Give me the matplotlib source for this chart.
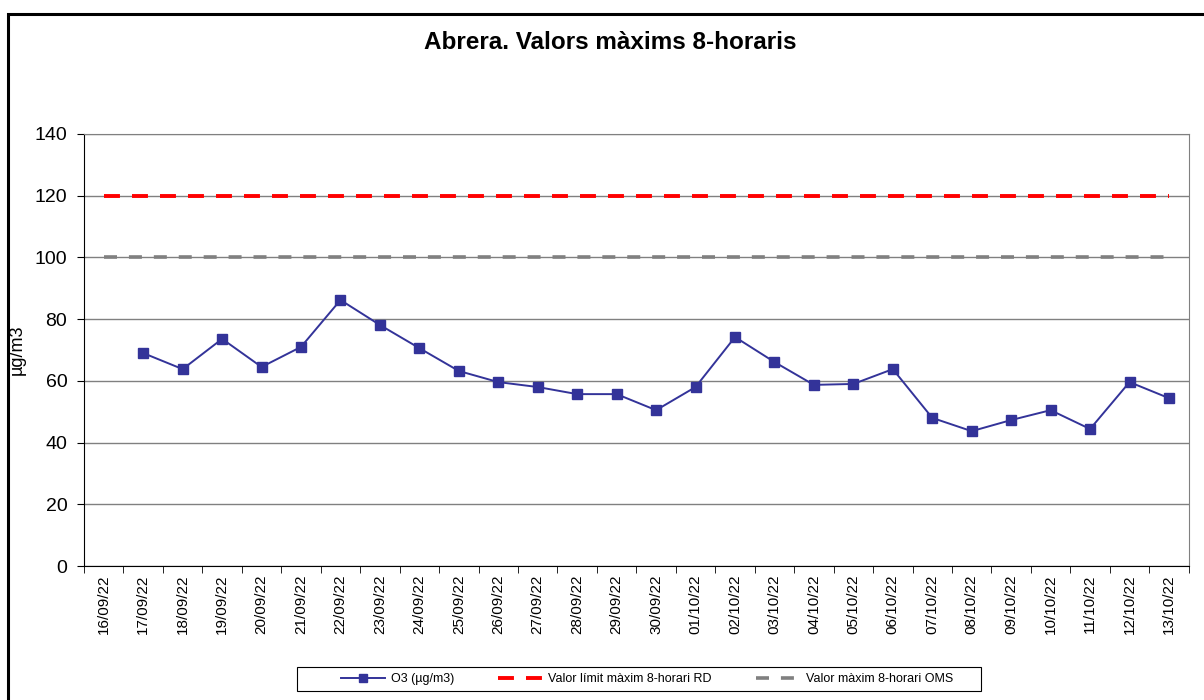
import matplotlib.pyplot as plt
from matplotlib.patches import Rectangle

plt.rcParams['font.family'] = ['Liberation Sans', 'DejaVu Sans']

dates = ['16/09/22', '17/09/22', '18/09/22', '19/09/22', '20/09/22', '21/09/22',
         '22/09/22', '23/09/22', '24/09/22', '25/09/22', '26/09/22', '27/09/22',
         '28/09/22', '29/09/22', '30/09/22', '01/10/22', '02/10/22', '03/10/22',
         '04/10/22', '05/10/22', '06/10/22', '07/10/22', '08/10/22', '09/10/22',
         '10/10/22', '11/10/22', '12/10/22', '13/10/22']

# primer dia sense dada
o3 = [None, 69.0, 63.8, 73.6, 64.5, 71.0, 86.2, 78.1, 70.6, 63.2, 59.6, 58.0,
      55.7, 55.7, 50.5, 58.0, 74.2, 66.1, 58.7, 59.0, 63.8, 48.0, 43.7, 47.3,
      50.5, 44.4, 59.6, 54.4]
limit_rd = [120] * len(dates)
limit_oms = [100] * len(dates)

x = list(range(len(dates)))
o3_x = [i for i, v in zip(x, o3) if v is not None]
o3_y = [v for v in o3 if v is not None]

fig = plt.figure(figsize=(12.04, 7.0), dpi=100)
ax = fig.add_axes([0.0698, 0.1914, 0.9175, 0.6172])

# marc exterior
fig.patches.append(Rectangle((0.0066, -0.05), 1.05, 1.03, transform=fig.transFigure,
                             fill=False, edgecolor='black', linewidth=2.2, clip_on=False))

ax.plot(o3_x, o3_y, color='#333399', linewidth=1.4, marker='s', markersize=6.5,
        label='O3 (µg/m3)')
ax.plot(x, limit_rd, color='#FF0000', linewidth=2.8, linestyle=(0, (4.1, 3.1)),
        label='Valor límit màxim 8-horari RD')
ax.plot(x, limit_oms, color='#808080', linewidth=2.6, linestyle=(0, (3.6, 3.3)),
        label='Valor màxim 8-horari OMS')

ax.set_xlim(-0.5, len(dates) - 0.5)
ax.set_ylim(0, 140)
ax.set_yticks(range(0, 141, 20))
ax.yaxis.grid(True, color='#808080', linewidth=1.0)
ax.set_axisbelow(True)

ax.set_xticks(x)
ax.set_xticklabels(dates, rotation=90, fontsize=11)
ax.set_xticks([i - 0.5 for i in range(len(dates) + 1)], minor=True)
ax.tick_params(axis='x', which='major', length=0, pad=6)
ax.tick_params(axis='x', which='minor', length=5, color='black')
ax.tick_params(axis='y', labelsize=14, length=5, pad=7)

for s in ['left', 'bottom']:
    ax.spines[s].set_color('black')
for s in ['top', 'right']:
    ax.spines[s].set_color('#808080')

ax.set_ylabel('µg/m3', fontsize=13)
ax.yaxis.set_label_coords(-0.053, 0.5)
fig.text(0.507, 0.939, 'Abrera. Valors màxims 8-horaris', fontsize=17.5,
         fontweight='bold', ha='center', va='center')

# caixa de la llegenda a part, amb el farciment de l'Excel
fig.patches.append(Rectangle((297 / 1204, 9 / 700), 684 / 1204, 24 / 700,
                             transform=fig.transFigure, fill=False,
                             edgecolor='black', linewidth=0.8))
fig.legend(loc='center', bbox_to_anchor=(647 / 1204, 21 / 700), ncol=3, fontsize=9,
           frameon=False, handlelength=3.5, handletextpad=0.5, columnspacing=3.5,
           borderpad=0, borderaxespad=0, markerscale=0.9)

fig.savefig('out.png', dpi=100)
